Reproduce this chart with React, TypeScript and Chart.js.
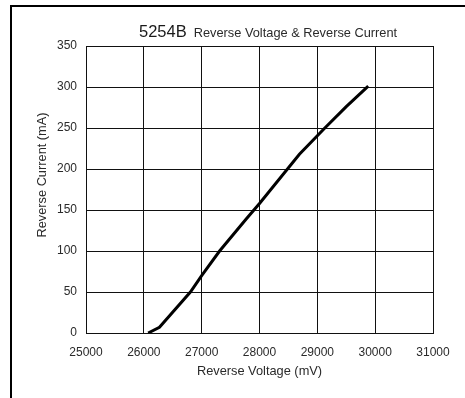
import React, { useEffect, useRef } from "react";
import { Chart, registerables } from "chart.js";

Chart.register(...registerables);

const voltage = [26075, 26270, 26805, 27000, 27310, 27770, 28000, 28690, 29130, 29500, 29880];
const current = [0, 7, 50, 70, 100, 139, 158, 218, 250, 276, 301];
const xTicks = [25000, 26000, 27000, 28000, 29000, 30000, 31000];
const yTicks = [0, 50, 100, 150, 200, 250, 300, 350];
const titleMain = "5254B";
const titleSub = "Reverse Voltage & Reverse Current";
const xTitle = "Reverse Voltage (mV)";
const yTitle = "Reverse Current (mA)";

const FONT = "'Liberation Sans', Arial, sans-serif";

const decor = {
  id: "decor",
  afterDraw(chart: any) {
    const ctx = chart.ctx as CanvasRenderingContext2D;
    const area = chart.chartArea;
    ctx.save();
    // frame
    ctx.strokeStyle = "#000";
    ctx.lineWidth = 2;
    ctx.beginPath();
    ctx.moveTo(465, 6);
    ctx.lineTo(11, 6);
    ctx.lineTo(11, 398);
    ctx.stroke();
    // title
    ctx.fillStyle = "#1a1a1a";
    ctx.textBaseline = "alphabetic";
    ctx.textAlign = "left";
    ctx.font = `16.5px ${FONT}`;
    ctx.fillText(titleMain, 139, 37);
    const w = ctx.measureText(titleMain).width;
    ctx.font = `12.8px ${FONT}`;
    ctx.fillStyle = "#2a2a2a";
    ctx.fillText(titleSub, 139 + w + 7, 37);
    // x title
    ctx.textAlign = "center";
    ctx.font = `12.8px ${FONT}`;
    ctx.fillText(xTitle, (area.left + area.right) / 2, 375);
    // y title
    ctx.translate(46, 175);
    ctx.rotate(-Math.PI / 2);
    ctx.fillText(yTitle, 0, 0);
    ctx.restore();
  },
};

export default function App() {
  const ref = useRef<HTMLCanvasElement | null>(null);
  useEffect(() => {
    document.body.style.margin = "0";
    const chart = new Chart(ref.current as HTMLCanvasElement, {
      type: "line",
      data: {
        datasets: [
          {
            data: voltage.map((v, i) => ({ x: v, y: current[i] })),
            borderColor: "#000",
            borderWidth: 3,
            pointRadius: 0,
            tension: 0,
            fill: false,
          },
        ],
      },
      options: {
        animation: false,
        responsive: false,
        maintainAspectRatio: false,
        layout: { padding: { left: 0, top: 46, right: 32, bottom: 15 } },
        plugins: { legend: { display: false }, tooltip: { enabled: false }, title: { display: false } },
        scales: {
          x: {
            type: "linear",
            min: 25000,
            max: 31000,
            afterBuildTicks: (s: any) => {
              s.ticks = xTicks.map((v) => ({ value: v }));
            },
            afterFit: (s: any) => {
              s.height = 50;
            },
            grid: { color: "#111", lineWidth: 1, drawTicks: false },
            border: { color: "#111", width: 1 },
            ticks: {
              padding: 12,
              color: "#2a2a2a",
              font: { family: FONT, size: 12 },
              maxRotation: 0,
              callback: (v: any) => String(v),
            },
          },
          y: {
            type: "linear",
            min: 0,
            max: 350,
            afterBuildTicks: (s: any) => {
              s.ticks = yTicks.map((v) => ({ value: v }));
            },
            afterFit: (s: any) => {
              s.width = 86;
            },
            grid: { color: "#111", lineWidth: 1, drawTicks: false },
            border: { color: "#111", width: 1 },
            ticks: {
              padding: 9,
              color: "#2a2a2a",
              font: { family: FONT, size: 12 },
              callback: (v: any) => String(v),
            },
          },
        },
      },
      plugins: [decor],
    } as any);
    return () => chart.destroy();
  }, []);
  return (
    <div style={{ position: "absolute", left: 0, top: 0, width: 465, height: 398, background: "#fff" }}>
      <canvas ref={ref} width={465} height={398} style={{ width: 465, height: 398 }} />
    </div>
  );
}
